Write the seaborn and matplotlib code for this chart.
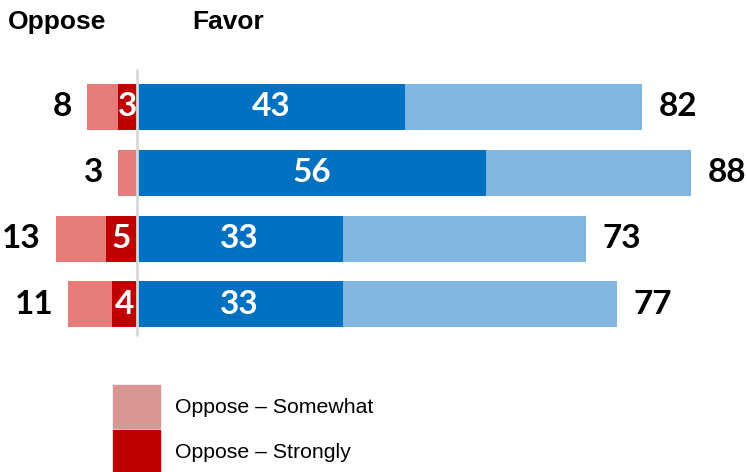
import matplotlib
matplotlib.use("Agg")
import matplotlib.pyplot as plt
import seaborn as sns
import pandas as pd
from matplotlib.patches import Patch

# --- data ---
rows = ["Row 1", "Row 2", "Row 3", "Row 4"]
oppose_total = [8, 3, 13, 11]
oppose_strongly = [3, 0, 5, 4]
favor_strongly = [43, 56, 33, 33]
favor_somewhat = [38, 33, 39, 44]   # as drawn (unrounded underlying values)
favor_total = [82, 88, 73, 77]      # labels

fav_bar_total = [s + w for s, w in zip(favor_strongly, favor_somewhat)]
df = pd.DataFrame({
    "row": rows,
    "opp_total": [-v for v in oppose_total],
    "opp_strong": [-v for v in oppose_strongly],
    "fav_strong": favor_strongly,
    "fav_total": fav_bar_total,
})

# colors
LIGHT_RED = "#E67C7A"
DARK_RED = "#C00000"
DARK_BLUE = "#0070C0"
LIGHT_BLUE = "#80B6DF"
LEGEND_RED = "#D99694"

sns.set_style("white")
plt.rcParams["font.family"] = ["Liberation Sans", "DejaVu Sans"]
plt.rcParams["text.color"] = "black"

fig = plt.figure(figsize=(7.47, 4.72), dpi=100)
ax = fig.add_axes([0, 0, 1, 1])

# stacked look: longer bars first, shorter on top
bar_kw = dict(orient="h", width=0.7, linewidth=0, ax=ax, saturation=1)
sns.barplot(data=df, x="fav_total", y="row", color=LIGHT_BLUE, **bar_kw)
sns.barplot(data=df, x="fav_strong", y="row", color=DARK_BLUE, **bar_kw)
sns.barplot(data=df, x="opp_total", y="row", color=LIGHT_RED, **bar_kw)
sns.barplot(data=df, x="opp_strong", y="row", color=DARK_RED, **bar_kw)

# zero line
ax.plot([0, 0], [-0.56, 3.47], color="#D9D9D9", lw=2, zorder=5)

num_font = dict(family=["Lato", "DejaVu Sans"], weight="bold", fontsize=24)
for i in range(len(rows)):
    ax.annotate(str(oppose_total[i]), (-oppose_total[i], i), xytext=(-11, 0),
                textcoords="offset points", ha="right", va="center", color="black", **num_font)
    ax.annotate(str(favor_total[i]), (fav_bar_total[i], i), xytext=(12, 0),
                textcoords="offset points", ha="left", va="center", color="black", **num_font)
    ax.text(favor_strongly[i] / 2, i, str(favor_strongly[i]), ha="center", va="center",
            color="white", zorder=6, **num_font)
    if oppose_strongly[i] > 0:
        ax.text(-oppose_strongly[i] / 2, i, str(oppose_strongly[i]), ha="center", va="center",
                color="white", zorder=6, **num_font)

ax.set_xlim(-137 / 6.23, 610 / 6.23)
ax.set_ylim(5.547, -1.626)
ax.axis("off")

fig.text(8 / 747, 1 - 22 / 472, "Oppose", ha="left", va="center", fontsize=19, weight="bold")
fig.text(192 / 747, 1 - 22 / 472, "Favor", ha="left", va="center", fontsize=19, weight="bold")

handles = [Patch(color=LEGEND_RED, label="Oppose \u2013 Somewhat"),
           Patch(color=DARK_RED, label="Oppose \u2013 Strongly")]
fig.legend(handles=handles, loc="upper left", bbox_to_anchor=(113 / 747, 1 - 385 / 472),
           frameon=False, fontsize=15.3, handlelength=2.2, handleheight=2.75,
           handletextpad=0.7, labelspacing=0.1, borderpad=0, borderaxespad=0,
           labelcolor="black")

fig.savefig("out.png", dpi=100)
